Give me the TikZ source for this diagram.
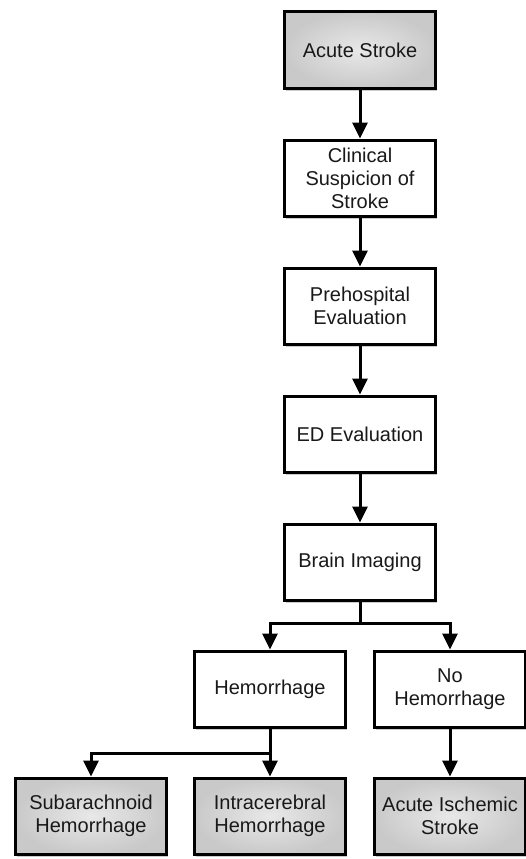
\documentclass[tikz,border=0pt]{standalone}
\usepackage{fontspec}
\setmainfont{Liberation Sans}
\usetikzlibrary{positioning,shadows,arrows.meta}

\tikzset{
  box/.style = {draw, line width=3pt, minimum width=151pt, minimum height=76pt,
    align=center, fill=white, text=black!90, font=\fontsize{20}{23}\selectfont,
    drop shadow={opacity=0.4, shadow xshift=1.5pt, shadow yshift=-3pt}},
  graybox/.style = {box, inner color=black!9, outer color=black!21},
  arr/.style = {line width=3pt, -{Triangle[length=16pt,width=15pt]}}
}

\begin{document}
\begin{tikzpicture}[node distance = 49pt]
\useasboundingbox (0,0) rectangle (526pt,-859pt);

\node[graybox] (acute) at (360pt,-50pt) {Acute Stroke};
\node[box, below = of acute] (clinical) {Clinical\\Suspicion of\\Stroke};
\node[box, below = of clinical] (prehosp) {Prehospital\\Evaluation};
\node[box, below = of prehosp] (ed) {ED Evaluation};
\node[box, below = of ed] (imaging) {Brain Imaging};
\node[box, below = 48pt of imaging, xshift=-90pt] (hem) {Hemorrhage};
\node[box, below = 48pt of imaging, xshift=90pt] (nohem) {No\\Hemorrhage};
\node[graybox, below = 48pt of hem] (intra) {Intracerebral\\Hemorrhage};
\node[graybox, below = 48pt of hem, xshift=-179pt] (sah) {Subarachnoid\\Hemorrhage};
\node[graybox, below = 48pt of nohem] (ischemic) {Acute Ischemic\\Stroke};

\draw[arr] (acute) -- (clinical);
\draw[arr] (clinical) -- (prehosp);
\draw[arr] (prehosp) -- (ed);
\draw[arr] (ed) -- (imaging);

\draw[arr] (imaging.south) -- ++(0,-22pt) -| (hem.north);
\draw[arr] (imaging.south) -- ++(0,-22pt) -| (nohem.north);

\draw[arr] (hem.south) -- ++(0,-25pt) -| (sah.north);
\draw[arr] (hem) -- (intra);
\draw[arr] (nohem) -- (ischemic);
\end{tikzpicture}
\end{document}
